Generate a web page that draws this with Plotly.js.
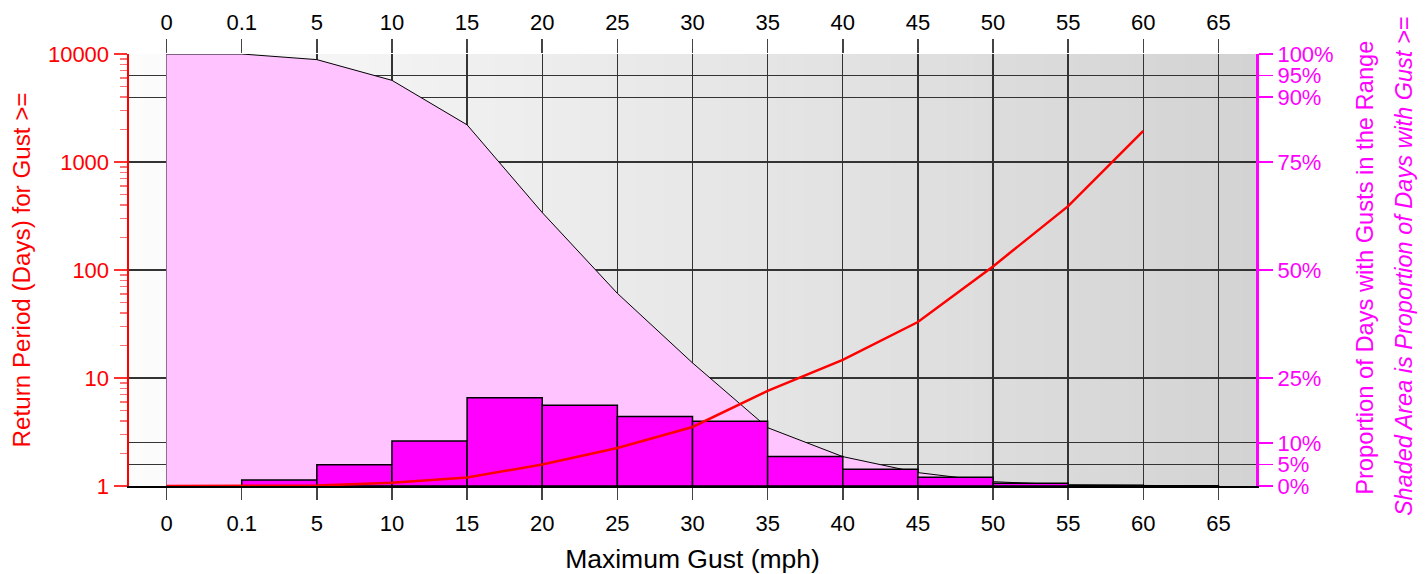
<!DOCTYPE html>
<html>
<head>
<meta charset="utf-8">
<script src="https://cdn.plot.ly/plotly-3.0.1.min.js"></script>
<style>
  html, body { margin: 0; padding: 0; background: #ffffff; }
  #chart { width: 1425px; height: 574px; }
</style>
</head>
<body>
<div id="chart"></div>
<script>
// ---- Data ----
const gustLabels = ['0', '0.1', '5', '10', '15', '20', '25', '30', '35', '40', '45', '50', '55', '60', '65'];
// Return period (days) for gust >= label (left log axis), labels 0 .. 60
const returnPeriodDays = [1, 1, 1.01, 1.07, 1.2, 1.58, 2.25, 3.52, 7.6, 14.7, 33, 108, 390, 1940];
// Proportion (%) of days with gust >= label (shaded area, right axis)
const pctAtOrAbove = [100, 100, 98.7, 93.9, 83.6, 63.3, 44.6, 28.5, 13.5, 6.8, 3.1, 1.0, 0.26, 0.06, 0.01];
// Proportion (%) of days with gust in the range [label i, label i+1) (bars)
const pctInRange = [0, 1.4, 4.9, 10.4, 20.4, 18.7, 16.1, 15.0, 6.8, 3.9, 2.0, 0.65, 0.2, 0.05];
// Right axis ticks
const pctTicks = [0, 5, 10, 25, 50, 75, 90, 95, 100];
// Left axis ticks
const rpTicks = [1, 10, 100, 1000, 10000];

// ---- Build traces ----
const idx = gustLabels.map((_, i) => i);
const fontFamily = '"Liberation Sans", Arial, sans-serif';

const shaded = {
  type: 'scatter', mode: 'lines',
  x: idx, y: pctAtOrAbove,
  xaxis: 'x', yaxis: 'y',
  fill: 'tozeroy', fillcolor: '#ffc4ff',
  line: { color: '#000000', width: 1 },
  hoverinfo: 'skip', showlegend: false
};

const bars = {
  type: 'bar',
  x: pctInRange.map((_, i) => idx[i] + 0.5),
  y: pctInRange,
  width: pctInRange.map(() => 1),
  xaxis: 'x', yaxis: 'y2',
  marker: { color: '#ff00ff', line: { color: '#000000', width: 1.5 } },
  hoverinfo: 'skip', showlegend: false
};

const returnLine = {
  type: 'scatter', mode: 'lines',
  x: returnPeriodDays.map((_, i) => idx[i]),
  y: returnPeriodDays,
  xaxis: 'x', yaxis: 'y3',
  line: { color: '#ff0000', width: 2.5 },
  hoverinfo: 'skip', showlegend: false
};

const topAxisDummy = {
  type: 'scatter', mode: 'markers',
  x: [idx[0]], y: [0],
  xaxis: 'x2', yaxis: 'y',
  marker: { opacity: 0 }, hoverinfo: 'skip', showlegend: false
};

// ---- Background gradient (light at left to darker at right) ----
const shapes = [];
const nStripes = 80;
const x0 = -0.5, x1 = idx.length - 0.5;
for (let s = 0; s < nStripes; s++) {
  const t = (s + 0.5) / nStripes;
  const g = Math.round(252 - 41 * t);
  shapes.push({
    type: 'rect', layer: 'below',
    xref: 'x', yref: 'paper',
    x0: x0 + (x1 - x0) * s / nStripes,
    x1: x0 + (x1 - x0) * (s + 1) / nStripes + 0.01,
    y0: 0, y1: 1,
    fillcolor: `rgb(${g},${g},${g})`,
    line: { width: 0 }
  });
}

const layout = {
  width: 1425, height: 574,
  margin: { l: 129, r: 169, t: 54, b: 88, pad: 0 },
  paper_bgcolor: '#ffffff',
  plot_bgcolor: 'rgba(0,0,0,0)',
  font: { family: fontFamily, size: 22, color: '#000000' },
  showlegend: false,
  bargap: 0,
  shapes: shapes,
  xaxis: {
    range: [x0, x1],
    tickmode: 'array', tickvals: idx, ticktext: gustLabels,
    ticks: 'outside', ticklen: 12, tickwidth: 1.5, tickcolor: '#444444',
    ticklabelstandoff: 5,
    showgrid: true, gridcolor: '#333333', gridwidth: 1.4,
    zeroline: false,
    showline: true, linecolor: '#000000', linewidth: 2,
    layer: 'below traces',
    tickfont: { size: 22, color: '#000000' },
    title: { text: 'Maximum Gust (mph)', font: { size: 26.5, color: '#000000' }, standoff: 14 },
    fixedrange: true
  },
  xaxis2: {
    overlaying: 'x', side: 'top', anchor: 'y',
    range: [x0, x1],
    tickmode: 'array', tickvals: idx, ticktext: gustLabels,
    ticks: 'outside', ticklen: 14, tickwidth: 1.5, tickcolor: '#444444',
    showgrid: false, zeroline: false, showline: false,
    tickfont: { size: 22, color: '#000000' },
    fixedrange: true
  },
  yaxis: {
    side: 'right', anchor: 'x',
    range: [0, 100],
    tickmode: 'array', tickvals: pctTicks, ticktext: pctTicks.map(v => v + '%'),
    ticks: 'outside', ticklen: 14, tickwidth: 1.5, tickcolor: '#ff00ff',
    showgrid: true, gridcolor: '#333333', gridwidth: 1.4,
    zeroline: false,
    showline: true, linecolor: '#ff00ff', linewidth: 3,
    tickfont: { size: 22, color: '#ff00ff' },
    fixedrange: true
  },
  yaxis2: {
    overlaying: 'y', side: 'right', anchor: 'x',
    range: [0, 100],
    showticklabels: false, ticks: '', showgrid: false, zeroline: false, showline: false,
    fixedrange: true
  },
  yaxis3: {
    overlaying: 'y', side: 'left', anchor: 'x',
    type: 'log', range: [0, 4],
    tickmode: 'array', tickvals: rpTicks, ticktext: rpTicks.map(String),
    ticks: 'outside', ticklen: 13, tickwidth: 1.5, tickcolor: '#ff3030',
    minor: { dtick: 'D1', ticks: 'outside', ticklen: 7, tickwidth: 1.2, tickcolor: '#ff7070', showgrid: false },
    showgrid: false, zeroline: false,
    showline: true, linecolor: '#ff0000', linewidth: 2.5,
    tickfont: { size: 22, color: '#ff0000' },
    title: { text: 'Return Period (Days) for Gust >=', font: { size: 24.2, color: '#ff0000' }, standoff: 11 },
    fixedrange: true
  },
  annotations: [
    {
      xref: 'paper', yref: 'paper', x: 1.0967, y: 0.505,
      xanchor: 'center', yanchor: 'middle', textangle: -90, showarrow: false,
      text: 'Proportion of Days with Gusts in the Range',
      font: { size: 23.7, color: '#ff00ff', family: fontFamily }
    },
    {
      xref: 'paper', yref: 'paper', x: 1.1313, y: 0.509,
      xanchor: 'center', yanchor: 'middle', textangle: -90, showarrow: false,
      text: '<i>Shaded Area is Proportion of Days with Gust >=</i>',
      font: { size: 23.5, color: '#ff00ff', family: fontFamily }
    }
  ]
};

Plotly.newPlot('chart', [shaded, bars, topAxisDummy, returnLine], layout, { displayModeBar: false, staticPlot: true });
</script>
</body>
</html>
